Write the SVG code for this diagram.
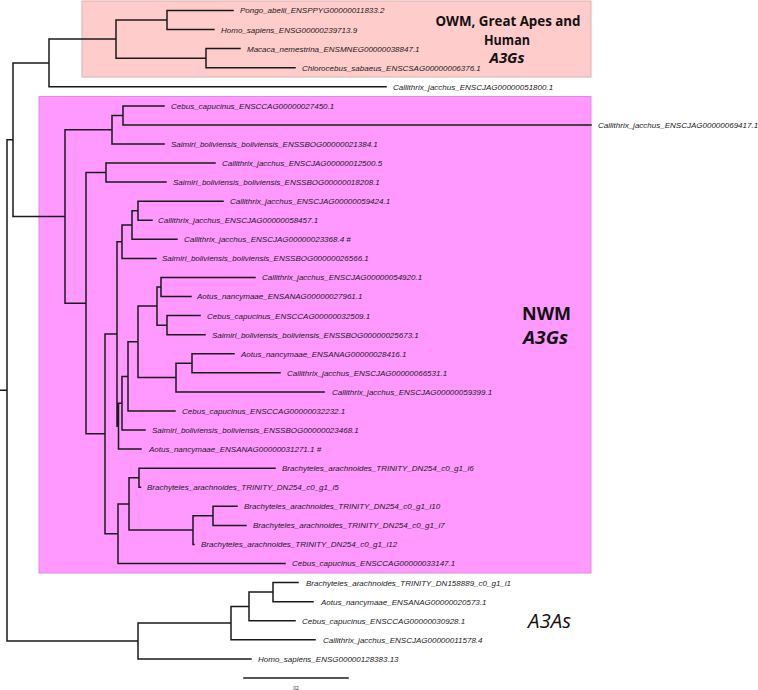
<svg xmlns="http://www.w3.org/2000/svg" width="758" height="690" viewBox="0 0 758 690">
<style>
.br{fill:none;stroke:#1a1a1a;stroke-width:1.5;stroke-linecap:square}
.lb{font-family:"Liberation Sans",Arial,sans-serif;font-size:8px;font-style:italic;fill:#1a1a1a}
.tt{font-family:"Open Sans","Noto Sans",sans-serif;font-weight:bold;fill:#111;text-anchor:middle}
</style>
<rect width="758" height="690" fill="#ffffff"/>
<g id="clade-owm">
<rect x="82" y="1" width="509" height="76" fill="#ffcccc" stroke="#dcb0b0" stroke-width="1"/>
<text class="tt" x="508" y="26" font-size="13.5" textLength="145" lengthAdjust="spacingAndGlyphs">OWM, Great Apes and</text>
<text class="tt" x="507" y="44.5" font-size="13.5" textLength="46" lengthAdjust="spacingAndGlyphs">Human</text>
<text class="tt" x="507" y="63" font-size="13.5" font-style="italic" textLength="35" lengthAdjust="spacingAndGlyphs">A3Gs</text>
</g>
<g id="clade-nwm">
<rect x="39" y="96.5" width="552" height="476.5" fill="#ff99ff" stroke="#e08ae0" stroke-width="1"/>
<text class="tt" x="546.5" y="320" font-size="18" textLength="49" lengthAdjust="spacingAndGlyphs">NWM</text>
<text class="tt" x="545.5" y="344" font-size="18" font-style="italic" textLength="45" lengthAdjust="spacingAndGlyphs">A3Gs</text>
</g>
<g id="clade-a3a">
<text x="549.5" y="627.5" font-family="'Open Sans','Noto Sans',sans-serif" font-size="20" font-style="italic" fill="#111" text-anchor="middle" textLength="43" lengthAdjust="spacingAndGlyphs">A3As</text>
</g>
<g id="connectors">
<path class="br" d="M0 390.35H7M7 139.7V641M7 139.7H13M7 641H138
M13 62.95V216.45M13 62.95H49M13 216.45H65
M49 39.1V86.8M49 39.1H116M49 86.8H386
M116 20.05V58.15M116 20.05H167M116 58.15H206
M167 10.5V29.6M167 10.5H233M167 29.6H214
M206 48.6V67.7M206 48.6H240M206 67.7H295
M65 129.7V303.2M65 129.7H112M65 303.2H86
M112 115.4V144M112 115.4H123M112 144H164
M123 105.9V124.9M123 105.9H164M123 124.9H591
M86 172.6V433.8M86 172.6H106M86 433.8H105
M106 163.1V182.1M106 163.1H215M106 182.1H166
M105 333.9V533.7M105 333.9H117M105 533.7H118
M117 241.7V426.15M117 241.7H122M117 426.15H118.5
M122 225V258.4M122 225H132M122 258.4H156
M132 210.75V239.3M132 210.75H138M132 239.3H177
M138 201.2V220.3M138 201.2H223M138 220.3H152
M118.5 403.2V449.1M118.5 403.2H122M118.5 449.1H141
M122 376.4V430M122 376.4H128M122 430H145
M128 341.85V411M128 341.85H138M128 411H175
M138 306.1V377.6M138 306.1H157M138 377.6H176
M157 287V325.15M157 287H161M157 325.15H167
M161 277.5V296.5M161 277.5H255M161 296.5H191
M167 315.6V334.7M167 315.6H200M167 334.7H205
M176 363.3V391.9M176 363.3H192M176 391.9H324
M192 353.8V372.8M192 353.8H234M192 372.8H280
M118 503.9V563.5M118 503.9H129M118 563.5H285
M129 477.7V530.1M129 477.7H139M129 530.1H193
M139 468.2V487.2M139 468.2H275M139 487.2H140.5
M193 515.85V544.4M193 515.85H213M193 544.4H194
M213 506.3V525.4M213 506.3H237M213 525.4H246
M138 623.1V658.9M138 623.1H231M138 658.9H251
M231 606.4V639.8M231 606.4H249M231 639.8H315
M249 592.1V620.7M249 592.1H273M249 620.7H295
M273 582.6V601.7M273 582.6H298M273 601.7H313"/>
<path class="br" d="M244 678H348"/>
</g>
<g id="leaves">
<g id="leaf-0"><text class="lb" x="240" y="13.4">Pongo_abelii_ENSPPYG00000011833.2</text></g>
<g id="leaf-1"><text class="lb" x="221" y="32.5">Homo_sapiens_ENSG00000239713.9</text></g>
<g id="leaf-2"><text class="lb" x="247" y="51.5">Macaca_nemestrina_ENSMNEG00000038847.1</text></g>
<g id="leaf-3"><text class="lb" x="302" y="70.6">Chlorocebus_sabaeus_ENSCSAG00000006376.1</text></g>
<g id="leaf-4"><text class="lb" x="393" y="89.7">Callithrix_jacchus_ENSCJAG00000051800.1</text></g>
<g id="leaf-5"><text class="lb" x="171" y="108.8">Cebus_capucinus_ENSCCAG00000027450.1</text></g>
<g id="leaf-6"><text class="lb" x="598" y="127.8">Callithrix_jacchus_ENSCJAG00000069417.1</text></g>
<g id="leaf-7"><text class="lb" x="171" y="146.9">Saimiri_boliviensis_boliviensis_ENSSBOG00000021384.1</text></g>
<g id="leaf-8"><text class="lb" x="222" y="166">Callithrix_jacchus_ENSCJAG00000012500.5</text></g>
<g id="leaf-9"><text class="lb" x="173" y="185">Saimiri_boliviensis_boliviensis_ENSSBOG00000018208.1</text></g>
<g id="leaf-10"><text class="lb" x="230" y="204.1">Callithrix_jacchus_ENSCJAG00000059424.1</text></g>
<g id="leaf-11"><text class="lb" x="158" y="223.2">Callithrix_jacchus_ENSCJAG00000058457.1</text></g>
<g id="leaf-12"><text class="lb" x="184" y="242.2">Callithrix_jacchus_ENSCJAG00000023368.4 #</text></g>
<g id="leaf-13"><text class="lb" x="162" y="261.3">Saimiri_boliviensis_boliviensis_ENSSBOG00000026566.1</text></g>
<g id="leaf-14"><text class="lb" x="262" y="280.4">Callithrix_jacchus_ENSCJAG00000054920.1</text></g>
<g id="leaf-15"><text class="lb" x="197" y="299.4">Aotus_nancymaae_ENSANAG00000027961.1</text></g>
<g id="leaf-16"><text class="lb" x="207" y="318.5">Cebus_capucinus_ENSCCAG00000032509.1</text></g>
<g id="leaf-17"><text class="lb" x="212" y="337.6">Saimiri_boliviensis_boliviensis_ENSSBOG00000025673.1</text></g>
<g id="leaf-18"><text class="lb" x="241" y="356.7">Aotus_nancymaae_ENSANAG00000028416.1</text></g>
<g id="leaf-19"><text class="lb" x="287" y="375.7">Callithrix_jacchus_ENSCJAG00000066531.1</text></g>
<g id="leaf-20"><text class="lb" x="332" y="394.8">Callithrix_jacchus_ENSCJAG00000059399.1</text></g>
<g id="leaf-21"><text class="lb" x="182" y="413.9">Cebus_capucinus_ENSCCAG00000032232.1</text></g>
<g id="leaf-22"><text class="lb" x="152" y="432.9">Saimiri_boliviensis_boliviensis_ENSSBOG00000023468.1</text></g>
<g id="leaf-23"><text class="lb" x="149" y="452">Aotus_nancymaae_ENSANAG00000031271.1 #</text></g>
<g id="leaf-24"><text class="lb" x="282" y="471.1">Brachyteles_arachnoides_TRINITY_DN254_c0_g1_i6</text></g>
<g id="leaf-25"><text class="lb" x="147" y="490.1">Brachyteles_arachnoides_TRINITY_DN254_c0_g1_i5</text></g>
<g id="leaf-26"><text class="lb" x="244" y="509.2">Brachyteles_arachnoides_TRINITY_DN254_c0_g1_i10</text></g>
<g id="leaf-27"><text class="lb" x="253" y="528.3">Brachyteles_arachnoides_TRINITY_DN254_c0_g1_i7</text></g>
<g id="leaf-28"><text class="lb" x="201" y="547.3">Brachyteles_arachnoides_TRINITY_DN254_c0_g1_i12</text></g>
<g id="leaf-29"><text class="lb" x="292" y="566.4">Cebus_capucinus_ENSCCAG00000033147.1</text></g>
<g id="leaf-30"><text class="lb" x="306" y="585.5">Brachyteles_arachnoides_TRINITY_DN158889_c0_g1_i1</text></g>
<g id="leaf-31"><text class="lb" x="321" y="604.6">Aotus_nancymaae_ENSANAG00000020573.1</text></g>
<g id="leaf-32"><text class="lb" x="302" y="623.6">Cebus_capucinus_ENSCCAG00000030928.1</text></g>
<g id="leaf-33"><text class="lb" x="323" y="642.7">Callithrix_jacchus_ENSCJAG00000011578.4</text></g>
<g id="leaf-34"><text class="lb" x="258" y="661.8">Homo_sapiens_ENSG00000128383.13</text></g>
</g>
<g id="scale"><text x="296" y="689.5" font-family="'Liberation Sans',Arial,sans-serif" font-size="5" fill="#333" text-anchor="middle">02</text></g>
</svg>
